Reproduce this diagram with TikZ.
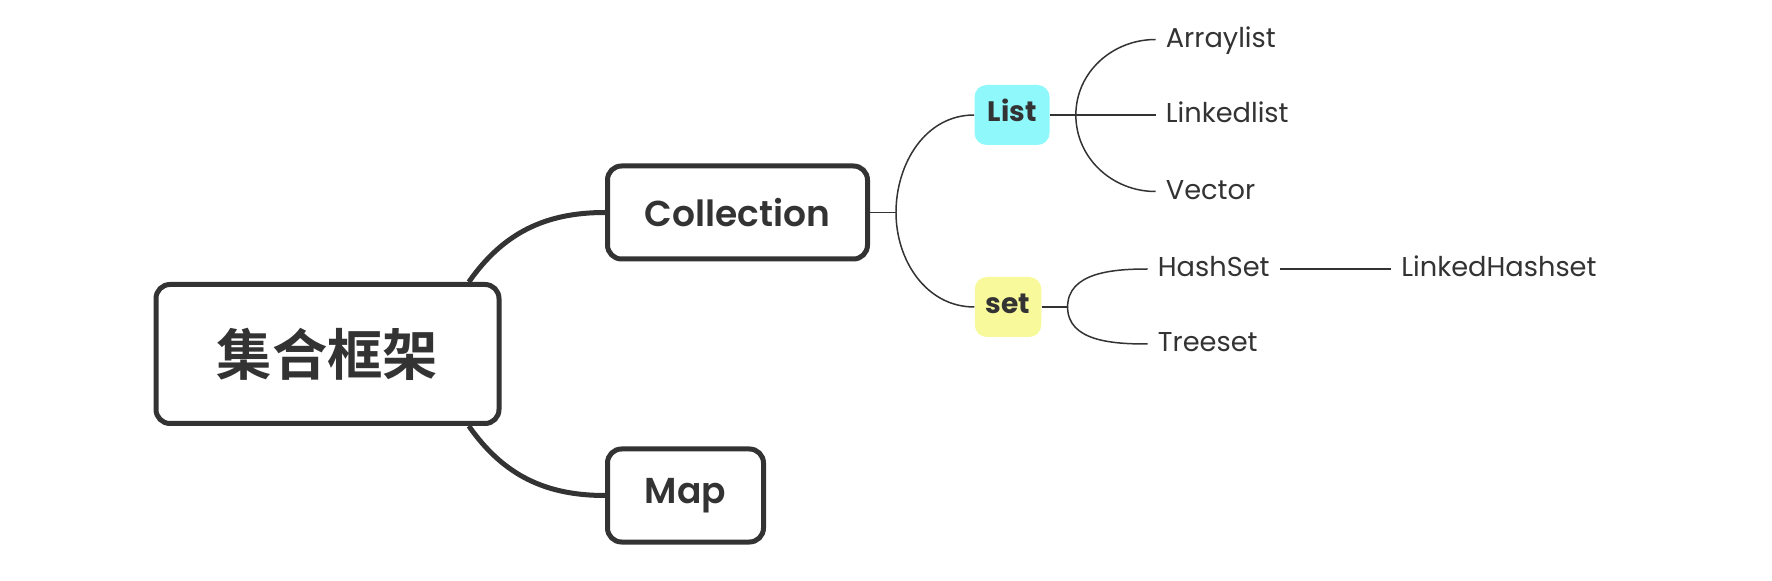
\documentclass[tikz,border=0pt]{standalone}
\usepackage{fontspec}
\setmainfont{Poppins}
\newfontfamily\popsemi{Poppins SemiBold}
\newfontfamily\cjk{Noto Sans CJK SC Bold}
\usepackage{tikz}
\usetikzlibrary{positioning}
\usepackage{xcolor}
\definecolor{ink}{HTML}{333333}
\definecolor{listcyan}{HTML}{8EF8FB}
\definecolor{setyellow}{HTML}{F8F99A}

\begin{document}
\begin{tikzpicture}[
    mainbox/.style={draw=ink, line width=0.1cm, rounded corners=0.28cm, fill=white, text=ink, minimum height=1.86cm},
    tagbox/.style={rounded corners=0.24cm, text=ink, font=\bfseries\fontsize{16}{19}\selectfont, minimum height=1.2cm, text height=0.9em, text depth=0.2em},
    leaf/.style={anchor=west, inner xsep=0.2cm, text=ink, font=\fontsize{15.5}{18}\selectfont, text height=1em, text depth=0.1em},
    bigline/.style={draw=ink, line width=0.1cm},
    smallline/.style={draw=ink, line width=0.03cm}
]
    \useasboundingbox (0,0) rectangle (35.44,11.6);

    \node[mainbox, minimum width=6.86cm, minimum height=2.78cm, font=\cjk\fontsize{31.5}{36}\selectfont] (root) at (6.55, 4.52) {集合框架};
    \node[mainbox, minimum width=5.2cm, font=\popsemi\fontsize{20.5}{25}\selectfont] (coll) at (14.75, 7.35) {Collection};
    \node[mainbox, minimum width=3.12cm, font=\popsemi\fontsize{20.5}{25}\selectfont] (map) at (13.71, 1.69) {Map};

    \draw[bigline] (root.27) to[out=55, in=180] (coll.west);
    \draw[bigline] (root.-27) to[out=-55, in=180] (map.west);

    \node[tagbox, fill=listcyan, minimum width=1.5cm] (list) at (20.24, 9.30) {List};
    \node[tagbox, fill=setyellow, minimum width=1.33cm] (set) at (20.16, 5.46) {set};

    \coordinate[right=0.52cm of coll.east] (jc);
    \draw[smallline] (coll.east) -- (jc);
    \draw[smallline] (jc) to[out=90, in=180] (list.west);
    \draw[smallline] (jc) to[out=-90, in=180] (set.west);

    \node[leaf] (arr) at (23.11, 10.81) {Arraylist};
    \node[leaf] (lnk) at (23.11, 9.30) {Linkedlist};
    \node[leaf] (vec) at (23.11, 7.77) {Vector};

    \coordinate[right=0.52cm of list.east] (jl);
    \draw[smallline] (list.east) -- (jl);
    \draw[smallline] (jl) to[out=90, in=180] (arr.west);
    \draw[smallline] (jl) -- (lnk.west);
    \draw[smallline] (jl) to[out=-90, in=180] (vec.west);

    \node[leaf] (hs) at (22.95, 6.22) {HashSet};
    \node[leaf] (ts) at (22.95, 4.72) {Treeset};
    \node[leaf] (lhs) at (27.82, 6.22) {LinkedHashset};

    \coordinate[right=0.52cm of set.east] (js);
    \draw[smallline] (set.east) -- (js);
    \draw[smallline] (js) to[out=90, in=180] (hs.west);
    \draw[smallline] (js) to[out=-90, in=180] (ts.west);
    \draw[smallline] (hs.east) -- (lhs.west);
\end{tikzpicture}
\end{document}
